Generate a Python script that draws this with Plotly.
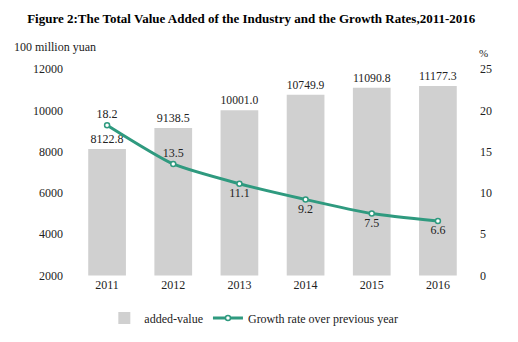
import plotly.graph_objects as go

years = ["2011", "2012", "2013", "2014", "2015", "2016"]
added_value = [8122.8, 9138.5, 10001.0, 10749.9, 11090.8, 11177.3]
growth_rate = [18.2, 13.5, 11.1, 9.2, 7.5, 6.6]
growth_text_pos = ["top center", "top center", "bottom center", "bottom center", "bottom center", "bottom center"]

FONT = "Liberation Serif, Times New Roman, serif"
TEAL = "#2f9a7f"

fig = go.Figure()
fig.add_trace(go.Bar(
    x=years, y=added_value, name="added-value",
    marker=dict(color="#d0d0d0", line=dict(width=0)),
    width=0.57,
    text=[f"{v:.1f}" for v in added_value], textposition="outside",
    textfont=dict(family=FONT, size=12, color="#222"),
    cliponaxis=False,
))
fig.add_trace(go.Scatter(
    x=years, y=growth_rate, name="Growth rate over previous year",
    yaxis="y2", mode="lines+markers+text",
    line=dict(color=TEAL, width=3, shape="spline", smoothing=0.6),
    marker=dict(size=5, color="white", line=dict(color=TEAL, width=1.5)),
    text=[f"{v:.1f}" for v in growth_rate], textposition=growth_text_pos,
    textfont=dict(family=FONT, size=12, color="#222"),
    cliponaxis=False,
))

fig.update_layout(
    width=518, height=342,
    margin=dict(l=74, r=47, t=69, b=59),
    paper_bgcolor="white", plot_bgcolor="white",
    font=dict(family=FONT, size=12, color="#222"),
    bargap=0.43,
    title=dict(text="<b>Figure 2:The Total Value Added of the Industry and the Growth Rates,2011-2016</b>",
               x=0.485, xanchor="center", xref="container", y=1 - 18 / 342, yanchor="middle",
               yref="container", font=dict(family=FONT, size=13, color="#000")),
    xaxis=dict(showline=False, ticks="", showgrid=False, tickfont=dict(family=FONT, size=12)),
    yaxis=dict(range=[2000, 12000], dtick=2000, tickformat="d", showgrid=False, showline=False,
               ticks="", zeroline=False, ticklabelstandoff=10, tickfont=dict(family=FONT, size=12)),
    yaxis2=dict(range=[0, 25], dtick=5, tickformat="d", overlaying="y", side="right", showgrid=False,
                showline=False, ticks="", zeroline=False, ticklabelstandoff=8,
                tickfont=dict(family=FONT, size=12)),
    legend=dict(orientation="h", xref="container", x=0.49, xanchor="center",
                yref="container", y=1 - 318 / 342, yanchor="middle",
                font=dict(family=FONT, size=12), itemwidth=30, tracegroupgap=0),
    showlegend=True,
    annotations=[
        dict(text="100 million yuan", xref="paper", yref="paper", x=-74 / 397 + 12 / 397,
             xanchor="left", y=1 + (69 - 46) / 214, yanchor="middle", showarrow=False,
             font=dict(family=FONT, size=12)),
        dict(text="%", xref="paper", yref="paper", x=1 + 12 / 397, xanchor="center",
             y=1 + (69 - 52) / 214, yanchor="middle", showarrow=False,
             font=dict(family=FONT, size=11)),
    ],
)

fig.write_html("out.html")
